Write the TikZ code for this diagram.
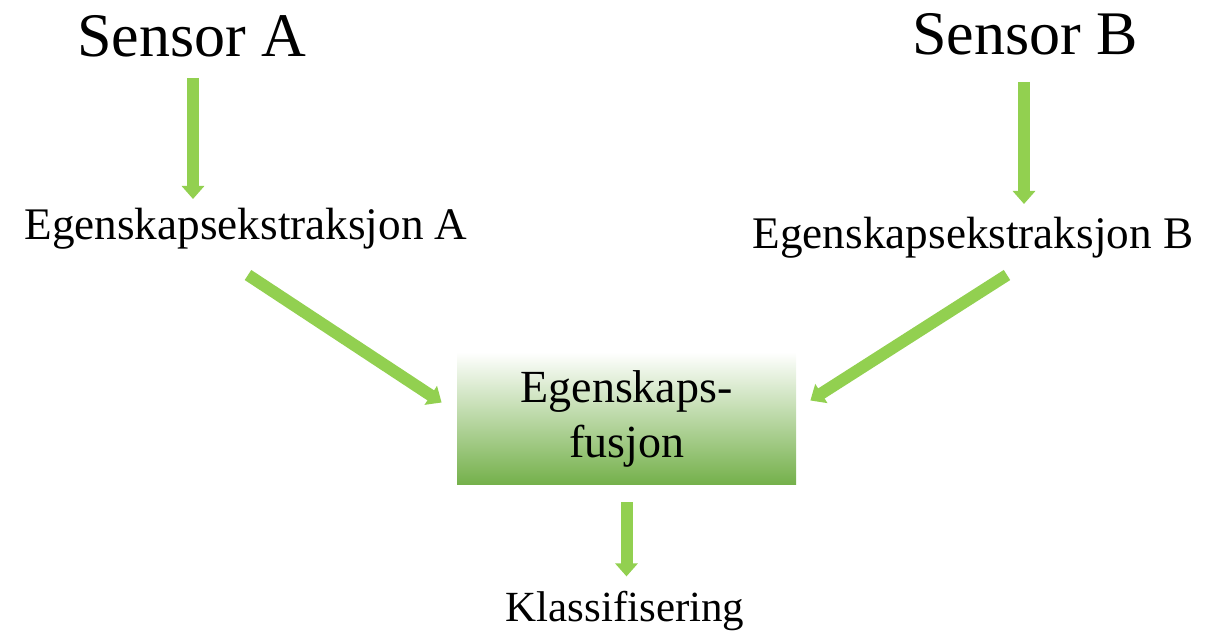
\documentclass[tikz,border=0pt]{standalone}
\usepackage{fontspec}
\setmainfont{Liberation Serif}
\usepackage{xcolor}
\usetikzlibrary{positioning,arrows.meta,calc}

\definecolor{flowgreen}{HTML}{92D050}
\definecolor{boxgreen}{HTML}{74B04A}

\begin{document}
\begin{tikzpicture}[x=0.5pt, y=-0.5pt,
      sensor/.style={font=\fontsize{31}{36}\selectfont, inner sep=0pt, anchor=base},
      stage/.style={font=\fontsize{22.6}{26}\selectfont, inner sep=0pt, anchor=base},
      fusebox/.style={top color=white, bottom color=boxgreen, minimum width=169.5pt, minimum height=66.5pt,
        align=center, font=\fontsize{23}{27.5}\selectfont},
      flow/.style={flowgreen, line width=6pt, -{Triangle[width=11pt,length=6.5pt]}}
    ]
    \useasboundingbox (0,0) rectangle (1216,635);

    \node[sensor] (senA) at (192,57) {Sensor A};
    \node[sensor] (senB) at (1025,55) {Sensor B};
    \node[stage] (extA) at (246,240) {Egenskapsekstraksjon A};
    \node[stage] (extB) at (973,249) {Egenskapsekstraksjon B};
    \node[fusebox] (fuse) at (626.5,418.5) {Egenskaps-\\fusjon};
    \node[stage, font=\fontsize{21.5}{26}\selectfont] (klass) at (625,622) {Klassifisering};

    \draw[flow] ($(senA.base)+(1,21)$) -- ($(senA.base)+(1,142)$);
    \draw[flow] ($(senB.base)+(-1,27)$) -- ($(senB.base)+(-1,149)$);
    \draw[flow] ($(extA.base)+(2,35)$) -- ($(fuse.west)+(-15,-16)$);
    \draw[flow] ($(extB.base)+(34,26)$) -- ($(fuse.east)+(14,-18)$);
    \draw[flow] ($(fuse.south)+(0,17)$) -- ($(fuse.south)+(0,91)$);
  \end{tikzpicture}
\end{document}
